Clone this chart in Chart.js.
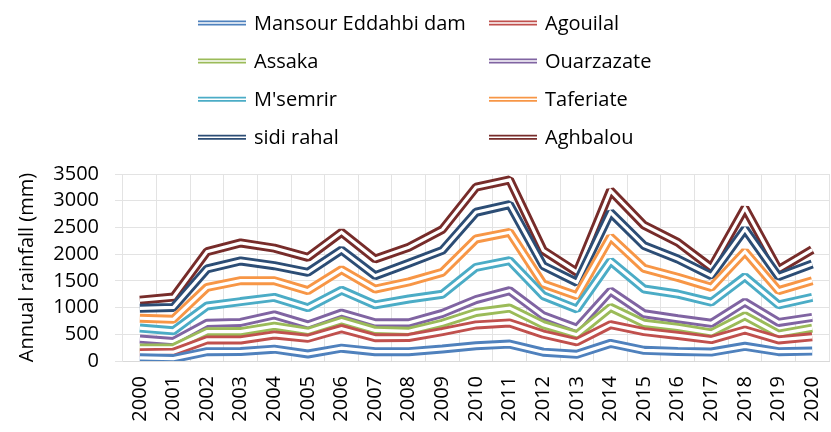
<!DOCTYPE html>
<html>
<head>
<meta charset="utf-8">
<script src="https://cdn.jsdelivr.net/npm/chart.js@4"></script>
<style>
  html, body { margin: 0; padding: 0; background: #fff; }
  canvas { display: block; }
</style>
</head>
<body>
<canvas id="rainChart" width="831" height="432"></canvas>
<script>
'use strict';

// --- Data: annual rainfall per station (mm), stacked from the bottom ---
const years = ['2000', '2001', '2002', '2003', '2004', '2005', '2006', '2007', '2008', '2009', '2010',
  '2011', '2012', '2013', '2014', '2015', '2016', '2017', '2018', '2019', '2020'];

const mansourEddahbi = [60, 45, 175, 178, 222, 131, 240, 175, 175, 225, 285, 316, 165, 125, 330, 200, 180, 168, 275, 175, 185];
const agouilal = [95, 120, 220, 216, 266, 294, 365, 260, 265, 325, 390, 396, 338, 235, 350, 350, 298, 232, 305, 220, 268];
const assaka = [90, 85, 153, 156, 165, 128, 148, 137, 115, 155, 234, 279, 177, 130, 323, 155, 150, 125, 267, 108, 163];
const ouarzazate = [165, 115, 157, 172, 210, 122, 144, 143, 160, 185, 241, 325, 167, 122, 307, 180, 162, 180, 256, 219, 200];
const msemrir = [207, 201, 325, 390, 328, 322, 428, 335, 445, 360, 603, 562, 375, 360, 560, 462, 463, 395, 475, 328, 375];
const taferiate = [183, 215, 348, 391, 312, 319, 384, 297, 320, 410, 531, 531, 219, 250, 450, 387, 313, 278, 470, 266, 312];
const sidiRahal = [185, 222, 344, 369, 281, 343, 369, 250, 350, 410, 500, 519, 343, 250, 460, 425, 343, 219, 420, 264, 313];
const aghbalou = [153, 193, 325, 337, 329, 282, 331, 312, 300, 390, 469, 462, 286, 190, 410, 381, 313, 150, 395, 130, 268];

const stationNames = ['Mansour Eddahbi dam', 'Agouilal', 'Assaka', 'Ouarzazate', "M'semrir", 'Taferiate', 'sidi rahal', 'Aghbalou'];
const stationValues = [mansourEddahbi, agouilal, assaka, ouarzazate, msemrir, taferiate, sidiRahal, aghbalou];
const stationColors = ['#4F81BD', '#C0504D', '#9BBB59', '#8064A2', '#4BACC6', '#F79646', '#2C4D75', '#772C2A'];

const yTicks = [0, 500, 1000, 1500, 2000, 2500, 3000, 3500];

const FONT = '"Open Sans", sans-serif';
const LINE_WIDTH = 9;     // outer width of the double line
const GAP_WIDTH = 3.2;    // white core between the two strands

// --- Helpers ---
function strokeDouble(ctx, points, color, outer, inner) {
  const path = () => {
    ctx.beginPath();
    points.forEach((p, i) => (i ? ctx.lineTo(p.x, p.y) : ctx.moveTo(p.x, p.y)));
  };
  ctx.lineJoin = 'miter';
  ctx.lineCap = 'butt';
  path();
  ctx.lineWidth = outer;
  ctx.strokeStyle = color;
  ctx.stroke();
  path();
  ctx.lineWidth = inner;
  ctx.strokeStyle = '#fff';
  ctx.stroke();
}

// white core drawn over each series, so every line reads as a double line
const doubleLineCore = {
  id: 'doubleLineCore',
  afterDatasetDraw(chart, args) {
    const pts = args.meta.data.map(p => ({ x: p.x, y: p.y }));
    const area = chart.chartArea;
    const ctx = chart.ctx;
    ctx.save();
    ctx.beginPath();
    ctx.rect(area.left, area.top - 10, area.right - area.left, area.bottom - area.top + 20);
    ctx.clip();
    ctx.beginPath();
    pts.forEach((p, i) => (i ? ctx.lineTo(p.x, p.y) : ctx.moveTo(p.x, p.y)));
    ctx.lineJoin = 'miter';
    ctx.lineCap = 'butt';
    ctx.lineWidth = GAP_WIDTH;
    ctx.strokeStyle = '#fff';
    ctx.stroke();
    ctx.restore();
  }
};

// two-column legend above the plot
const twoColumnLegend = {
  id: 'twoColumnLegend',
  afterDraw(chart) {
    const ctx = chart.ctx;
    ctx.save();
    ctx.font = '20px ' + FONT;
    ctx.textBaseline = 'alphabetic';
    ctx.textAlign = 'left';
    chart.data.datasets.forEach((ds, i) => {
      const col = i % 2;
      const row = Math.floor(i / 2);
      const x = col ? 489 : 198;
      const y = 23 + row * 38.1;
      strokeDouble(ctx, [{ x: x, y: y }, { x: x + 48, y: y }], ds.borderColor, 5, 1.5);
      ctx.fillStyle = '#000';
      ctx.fillText(ds.label, x + 56, y + 7);
    });
    ctx.restore();
  }
};

// --- Chart Setup ---
function setupRainChart() {
  const canvas = document.getElementById('rainChart');
  const datasets = stationNames.map((name, i) => ({
    label: name,
    data: stationValues[i],
    borderColor: stationColors[i],
    backgroundColor: stationColors[i],
    borderWidth: LINE_WIDTH,
    borderJoinStyle: 'bevel',
    borderCapStyle: 'butt',
    pointRadius: 0,
    pointHoverRadius: 0,
    tension: 0,
    fill: false
  }));

  new Chart(canvas.getContext('2d'), {
    type: 'line',
    data: { labels: years, datasets: datasets },
    options: {
      responsive: false,
      animation: false,
      events: [],
      layout: { padding: { top: 174, right: 2, left: 0, bottom: 0 } },
      plugins: {
        legend: { display: false },
        tooltip: { enabled: false }
      },
      scales: {
        x: {
          offset: true,
          grid: { offset: true, color: '#e3e3e3', drawTicks: false },
          border: { display: true, color: '#d9d9d9' },
          ticks: {
            color: '#000',
            font: { family: FONT, size: 20 },
            minRotation: 90,
            maxRotation: 90,
            autoSkip: false,
            padding: 15
          },
          afterFit(scale) {
            scale.height = 71;
            scale.paddingLeft = 0;
            scale.paddingRight = 0;
          }
        },
        y: {
          stacked: true,
          min: 0,
          max: 3500,
          afterBuildTicks(scale) { scale.ticks = yTicks.map(v => ({ value: v })); },
          grid: { color: '#e3e3e3', drawTicks: true, tickLength: 8 },
          border: { display: false },
          ticks: {
            color: '#000',
            font: { family: FONT, size: 20 },
            padding: 16,
            autoSkip: false,
            callback: v => String(v)
          },
          title: {
            display: true,
            text: 'Annual rainfall (mm)',
            color: '#000',
            font: { family: FONT, size: 20 },
            padding: { top: 15, bottom: 0 }
          },
          afterFit(scale) { scale.width = 123; }
        }
      }
    },
    plugins: [doubleLineCore, twoColumnLegend]
  });
}

document.addEventListener('DOMContentLoaded', setupRainChart);
</script>
</body>
</html>
